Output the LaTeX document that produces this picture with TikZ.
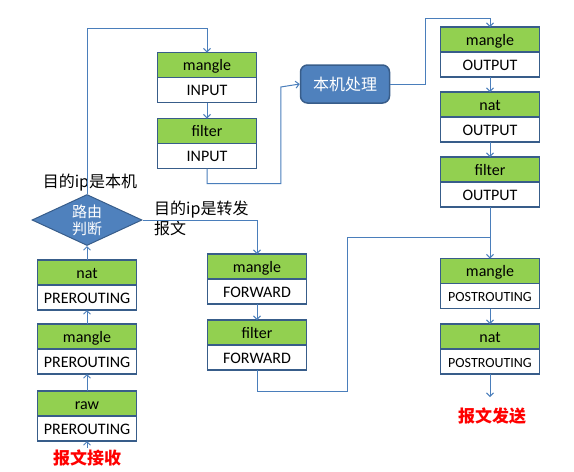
\documentclass[tikz,border=0pt]{standalone}
\usepackage{fontspec}
\setmainfont{Carlito}
\newfontfamily\cjk{Noto Sans CJK SC}
\usetikzlibrary{positioning,shapes.geometric,arrows.meta}
\definecolor{tblgreen}{HTML}{92D050}
\definecolor{tblborder}{HTML}{385D8A}
\definecolor{procblue}{HTML}{4F81BD}
\definecolor{flowblue}{HTML}{4A7EBB}
\tikzset{
    netfilter/.style={
        x=1pt, y=-1pt,
        % Stile per il nome della tabella (verde)
        tablebox/.style={draw=tblborder, fill=tblgreen, line width=1.5pt,
                         minimum width=99pt, minimum height=25pt,
                         text height=13pt, text depth=2pt, inner sep=0pt,
                         outer sep=0pt, font=\fontsize{16}{18}\selectfont},
        % Stile per la catena (bianco)
        chainbox/.style={tablebox, fill=white},
        % Stile per la decisione (rombo)
        decision/.style={diamond, draw=tblborder, fill=procblue, line width=1pt,
                         minimum width=110pt, minimum height=51pt, aspect=2.16,
                         inner sep=0pt, align=center, text=white,
                         font=\cjk\fontsize{15}{17}\selectfont},
        % Stile per il processo locale (rettangolo arrotondato)
        process/.style={draw=tblborder, fill=procblue, line width=1.5pt,
                        rounded corners=7pt, minimum width=89pt, minimum height=38pt,
                        text=white, font=\cjk\fontsize{16}{18}\selectfont},
        % Stile per le etichette
        note/.style={inner sep=1pt, font=\cjk\fontsize{16}{20}\selectfont},
        endpoint/.style={inner sep=2pt, text=red, font=\cjk\bfseries\fontsize{17}{19}\selectfont},
        % Stile per le frecce
        flow/.style={draw=flowblue, line width=1pt,
                     -{Straight Barb[length=3.5pt,width=7pt]}},
        wire/.style={draw=flowblue, line width=1pt}
    }
}

\begin{document}
\begin{tikzpicture}[netfilter]
    \useasboundingbox (0,0) rectangle (574,472);

    % PREROUTING
    \node[tablebox] (preNat) at (87,272.5) {nat};
    \node[chainbox, below=0pt of preNat] (preNatC) {PREROUTING};
    \node[tablebox] (preMangle) at (87,336.5) {mangle};
    \node[chainbox, below=0pt of preMangle] (preMangleC) {PREROUTING};
    \node[tablebox] (preRaw) at (87,403.5) {raw};
    \node[chainbox, below=0pt of preRaw] (preRawC) {PREROUTING};
    \node[endpoint] (recv) at (87,458) {报文接收};

    % decisione
    \node[decision] (route) at (87,220) {路由\\判断};
    \node[note] (localLbl) at (90,183) {目的ip是本机};
    \node[note, align=left, anchor=west] (fwdLbl) at (153,218) {目的ip是转发\\报文};

    % INPUT
    \node[tablebox] (inMangle) at (207,65) {mangle};
    \node[chainbox, below=0pt of inMangle] (inMangleC) {INPUT};
    \node[tablebox] (inFilter) at (207,131) {filter};
    \node[chainbox, below=0pt of inFilter] (inFilterC) {INPUT};

    \node[process] (local) at (345,84) {本机处理};

    % OUTPUT
    \node[tablebox] (outMangle) at (490,39.5) {mangle};
    \node[chainbox, below=0pt of outMangle] (outMangleC) {OUTPUT};
    \node[tablebox] (outNat) at (490,104.5) {nat};
    \node[chainbox, below=0pt of outNat] (outNatC) {OUTPUT};
    \node[tablebox] (outFilter) at (490,169.5) {filter};
    \node[chainbox, below=0pt of outFilter] (outFilterC) {OUTPUT};

    % FORWARD
    \node[tablebox] (fwdMangle) at (257,266.5) {mangle};
    \node[chainbox, below=0pt of fwdMangle] (fwdMangleC) {FORWARD};
    \node[tablebox] (fwdFilter) at (257,332.5) {filter};
    \node[chainbox, below=0pt of fwdFilter] (fwdFilterC) {FORWARD};

    % POSTROUTING
    \node[tablebox] (postMangle) at (490,271) {mangle};
    \node[chainbox, below=0pt of postMangle, font=\fontsize{14}{16}\selectfont] (postMangleC) {POSTROUTING};
    \node[tablebox] (postNat) at (490,336.5) {nat};
    \node[chainbox, below=0pt of postNat, font=\fontsize{14}{16}\selectfont] (postNatC) {POSTROUTING};
    \node[endpoint] (send) at (492,416) {报文发送};
    \coordinate (sendOut) at ([yshift=-23pt]postNatC.south);
    \coordinate (fwdJoin) at ([yshift=-30pt]outFilterC.south);

    % frecce
    \draw[flow] (recv.north) -- (preRawC.south);
    \draw[flow] (preRaw) -- (preMangleC);
    \draw[flow] (preMangle) -- (preNatC);
    \draw[flow] (preNat) -- (route);
    \draw[flow] (route.north) |- ([yshift=24pt]inMangle.north) -- (inMangle.north);
    \draw[flow] (route.east) -| (fwdMangle.north);
    \draw[flow] (inMangleC) -- (inFilter);
    \draw[flow] (inFilterC.south) -- ++(0,15) -| ([xshift=-19pt,yshift=-3pt]local.west) -- (local.west);
    \draw[flow] (local.east) -- ++(35,0) |- ([yshift=9pt]outMangle.north) -- (outMangle.north);
    \draw[flow] (outMangleC) -- (outNat);
    \draw[flow] (outNatC) -- (outFilter);
    \draw[flow] (outFilterC) -- (postMangle);
    \draw[flow] (fwdMangleC) -- (fwdFilter);
    \draw[wire] (fwdFilterC.south) -- ++(0,21) -- ++(90,0) |- (fwdJoin);
    \draw[flow] (postMangleC) -- (postNat);
    \draw[flow] (postNatC.south) -- (sendOut);
\end{tikzpicture}
\end{document}
